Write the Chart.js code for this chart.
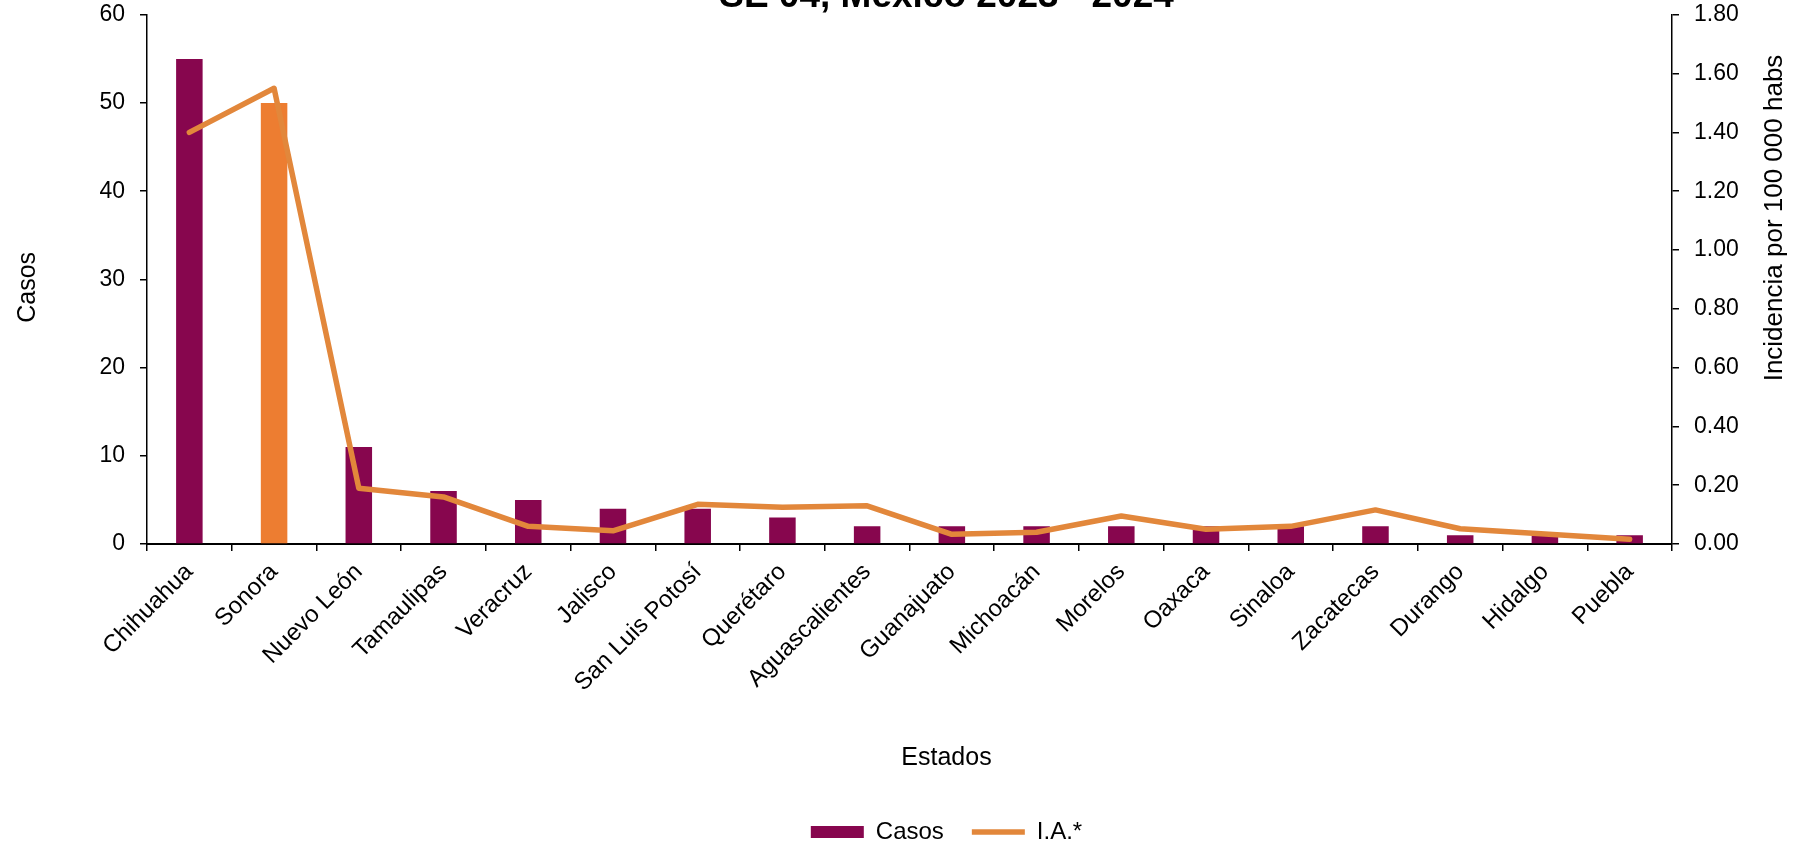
<!DOCTYPE html>
<html>
<head>
<meta charset="utf-8">
<script src="https://cdn.jsdelivr.net/npm/chart.js@4.4.1/dist/chart.umd.min.js"></script>
<style>
  html, body { margin: 0; padding: 0; background: #fff; }
  #marco { width: 1809px; height: 845px; overflow: hidden; position: relative; }
  #grafica { position: absolute; left: 0; top: -14px; }
</style>
</head>
<body>
<div id="marco"><canvas id="grafica" width="1893" height="868"></canvas></div>
<script>
var estados = ['Chihuahua', 'Sonora', 'Nuevo León', 'Tamaulipas', 'Veracruz', 'Jalisco',
  'San Luis Potosí', 'Querétaro', 'Aguascalientes', 'Guanajuato', 'Michoacán', 'Morelos',
  'Oaxaca', 'Sinaloa', 'Zacatecas', 'Durango', 'Hidalgo', 'Puebla'];
var casos = [55, 50, 11, 6, 5, 4, 4, 3, 2, 2, 2, 2, 2, 2, 2, 1, 1, 1];
var incidencia = [1.40, 1.55, 0.19, 0.16, 0.06, 0.045, 0.135, 0.125, 0.13, 0.033, 0.04, 0.095,
  0.05, 0.06, 0.116, 0.052, 0.034, 0.016];
var destacado = 'Sonora';

var titulo = 'SE 04, México 2023 - 2024';
var tituloX = 'Estados';
var tituloY = 'Casos';
var tituloY1 = 'Incidencia por 100 000 habs';

var colorCasos = '#87064E';
var colorDestacado = '#ED7D31';
var colorLinea = '#E2873B';
var fuente = '"Liberation Sans", Arial, sans-serif';
var desplaz = 14; // canvas sits 14px above the page top

var coloresBarras = estados.map(function(e) {
    return e === destacado ? colorDestacado : colorCasos;
});

// titles drawn by hand (the main title is cut at the top of the picture)
const textos = {
    id: 'textos',
    afterDraw: (chart) => {
        const ctx = chart.ctx;
        const area = chart.chartArea;
        ctx.save();
        ctx.fillStyle = '#000';
        ctx.textAlign = 'center';
        ctx.textBaseline = 'alphabetic';
        ctx.font = 'bold 37px ' + fuente;
        ctx.fillText(titulo, chart.width / 2, 7 + desplaz);

        ctx.textBaseline = 'middle';
        ctx.font = '25px ' + fuente;
        ctx.fillText(tituloX, chart.width / 2, area.bottom + 214);

        ctx.save();
        ctx.translate(28, (area.top + area.bottom) / 2 + 8);
        ctx.rotate(-Math.PI / 2);
        ctx.fillText(tituloY, 0, 0);
        ctx.restore();

        ctx.save();
        ctx.font = '26px ' + fuente;
        ctx.translate(area.right + 103, 218 + desplaz);
        ctx.rotate(-Math.PI / 2);
        ctx.fillText(tituloY1, 0, 0);
        ctx.restore();
        ctx.restore();
    }
};

var ctx = document.getElementById('grafica').getContext('2d');
var grafica = new Chart(ctx, {
    type: 'bar',
    data: {
        labels: estados,
        datasets: [{
            label: 'Casos',
            data: casos,
            backgroundColor: coloresBarras,
            borderWidth: 0,
            barPercentage: 0.313,
            categoryPercentage: 1,
            yAxisID: 'y',
            order: 1,
            pointStyle: 'rect'
        }, {
            type: 'line',
            label: 'I.A.*',
            data: incidencia,
            borderColor: colorLinea,
            backgroundColor: colorLinea,
            borderWidth: 5.5,
            borderJoinStyle: 'round',
            borderCapStyle: 'round',
            pointRadius: 0,
            pointHoverRadius: 0,
            tension: 0,
            yAxisID: 'y1',
            order: 0,
            pointStyle: 'line'
        }]
    },
    options: {
        responsive: false,
        animation: false,
        layout: { padding: 0 },
        plugins: {
            title: { display: false },
            tooltip: { enabled: false },
            legend: {
                position: 'bottom',
                labels: {
                    usePointStyle: true,
                    pointStyleWidth: 53,
                    boxHeight: 12,
                    padding: 28,
                    color: '#000',
                    font: { family: fuente, size: 24 },
                    sort: (a, b) => a.datasetIndex - b.datasetIndex
                }
            }
        },
        scales: {
            x: {
                offset: true,
                grid: { offset: true, drawOnChartArea: false, tickLength: 7, color: '#000', lineWidth: 1.5 },
                border: { color: '#000', width: 2 },
                ticks: {
                    autoSkip: false,
                    minRotation: 45,
                    maxRotation: 45,
                    padding: 7,
                    color: '#000',
                    font: { family: fuente, size: 24 }
                },
                afterFit: (scale) => { scale.height = 248; }
            },
            y: {
                position: 'left',
                min: 0,
                max: 60,
                grid: { drawOnChartArea: false, tickLength: 7, color: '#000', lineWidth: 1.5 },
                border: { color: '#000', width: 1.5 },
                ticks: {
                    stepSize: 10,
                    padding: 15,
                    color: '#000',
                    font: { family: fuente, size: 23 }
                },
                afterFit: (scale) => { scale.width = 147; }
            },
            y1: {
                position: 'right',
                min: 0,
                max: 1.8,
                grid: { drawOnChartArea: false, tickLength: 7, color: '#000', lineWidth: 1.5 },
                border: { color: '#000', width: 1.5 },
                ticks: {
                    stepSize: 0.2,
                    padding: 15,
                    color: '#000',
                    font: { family: fuente, size: 23 },
                    callback: function(v) { return v.toFixed(2); }
                },
                afterFit: (scale) => { scale.width = 1893 - 1672; }
            }
        }
    },
    plugins: [textos]
});
</script>
</body>
</html>
